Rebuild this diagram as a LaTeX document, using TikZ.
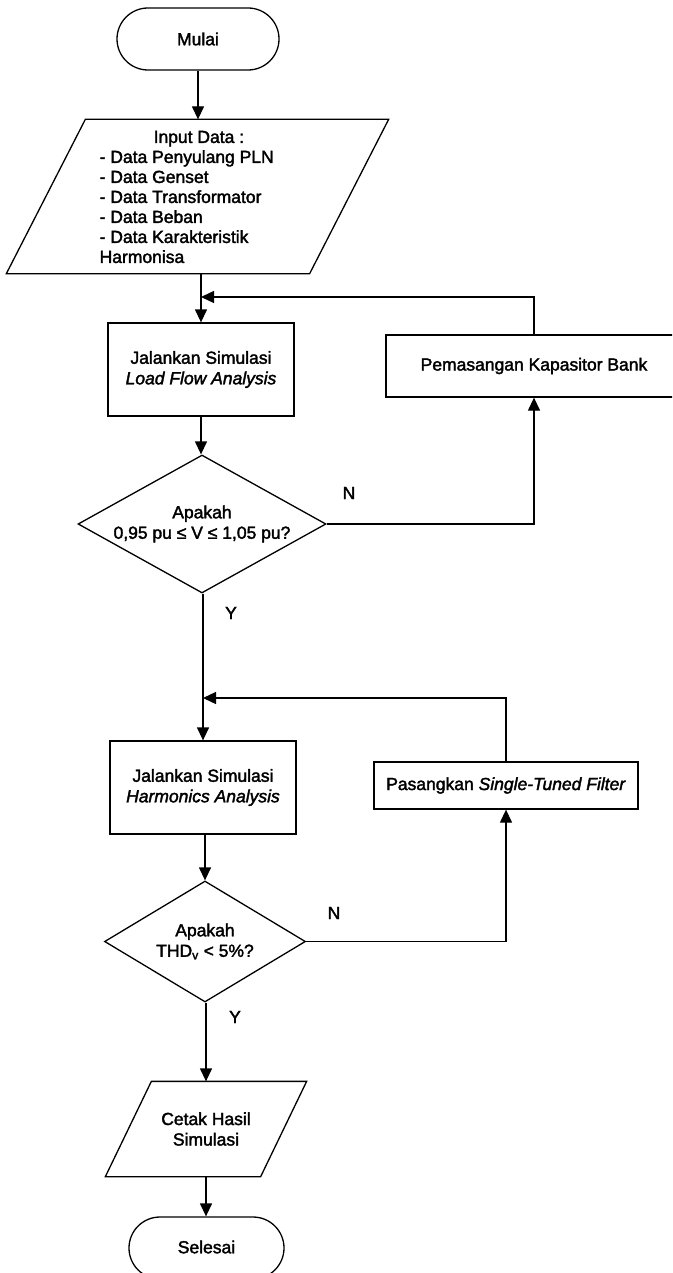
\documentclass[tikz,border=0pt]{standalone}
\usepackage{fontspec}
\setmainfont{Liberation Sans}[FakeBold=2]
\usetikzlibrary{arrows.meta,shapes.geometric}
\begin{document}
\begin{tikzpicture}[x=1pt,y=-1pt,
  line width=1.3pt,
  every node/.style={font=\fontsize{17.5}{20.5}\selectfont},
  term/.style={draw, rectangle, rounded corners=31pt, minimum height=62pt, inner sep=0pt},
  proc/.style={draw, rectangle, inner sep=0pt, align=center},
  iobox/.style={rectangle, draw=none, inner sep=0pt},
  iopath/.style={line join=miter},
  dec/.style={draw, diamond, inner sep=0pt},
  txt/.style={align=center, inner sep=0pt},
  lbl/.style={inner sep=0pt},
  arr/.style={-{Triangle[length=13pt,width=12pt]}}]
\useasboundingbox (0,0) rectangle (672,1273);
\clip (0,0) rectangle (672,1273);
\fill[white] (0,0) rectangle (672,1273);

% nodes
\node[term, minimum width=162pt] (mulai) at (198,39) {Mulai};

\node[iobox, minimum width=381pt, minimum height=153pt] (in) at (197.5,196.5) {};
\draw[iopath] ([xshift=79pt]in.north west) -- (in.north east)
  -- ([xshift=-79pt]in.south east) -- (in.south west) -- cycle;
\node[anchor=west, align=left, inner sep=0pt, font=\fontsize{17.5}{20}\selectfont] (intext) at (99,197)
  {\hspace*{54pt}Input Data :\\- Data Penyulang PLN\\- Data Genset\\- Data Transformator\\- Data Beban\\- Data Karakteristik\\Harmonisa};

\node[proc, minimum width=186pt, minimum height=93pt] (jal1) at (201,369.5)
  {Jalankan Simulasi\\\textit{Load Flow Analysis}};
\node[proc, minimum width=296pt, minimum height=62pt] (pem) at (534,366)
  {Pemasangan Kapasitor Bank};

\node[dec, minimum width=248pt, minimum height=138pt] (d1) at (202,524) {};
\node[txt] (d1t) at (d1) {Apakah\\0,95 pu ≤ V ≤ 1,05 pu?};
\node[lbl] (n1) at (349,493) {N};
\node[lbl] (y1) at (231,613) {Y};

\coordinate (j1) at (201,297);
\coordinate (j2) at (203,698);

\node[proc, minimum width=186pt, minimum height=93pt] (jal2) at (203,787.5)
  {Jalankan Simulasi\\\textit{Harmonics Analysis}};
\node[proc, minimum width=264pt, minimum height=47pt] (pas) at (506,785.5)
  {Pasangkan \textit{Single-Tuned Filter}};

\node[dec, minimum width=201pt, minimum height=121pt] (d2) at (205,941.5) {};
\node[txt] (d2t) at (d2) {Apakah\\THD\textsubscript{v} < 5\%?};
\node[lbl] (n2) at (334,913) {N};
\node[lbl] (y2) at (235,1017) {Y};

\node[iobox, minimum width=200pt, minimum height=94pt] (cetak) at (206,1129) {};
\draw[iopath] ([xshift=46pt]cetak.north west) -- (cetak.north east)
  -- ([xshift=-46pt]cetak.south east) -- (cetak.south west) -- cycle;
\node[txt] (cetakt) at (cetak) {Cetak Hasil\\Simulasi};

\node[term, minimum width=155pt] (selesai) at (206.5,1248) {};
\node[txt] (selesait) at (206.5,1247) {Selesai};

% connectors
\draw[arr] (mulai.south) -- (mulai.south |- in.north);
\draw[arr] (jal1.north |- in.south) -- (jal1.north);
\draw[arr] (pem.north) |- (j1);
\draw[arr] (jal1.south) -- (jal1.south |- d1.north);
\draw[arr] (d1.east) -| (pem.south);
\draw[arr] (jal2.north |- d1.south) -- (jal2.north);
\draw[arr] (pas.north) |- (j2);
\draw[arr] (d2.north |- jal2.south) -- (d2.north);
\draw[arr] (d2.east) -| (pas.south);
\draw[arr] (cetak.north |- d2.south) -- (cetak.north);
\draw[arr] (cetak.south) -- (cetak.south |- selesai.north);
\end{tikzpicture}
\end{document}
